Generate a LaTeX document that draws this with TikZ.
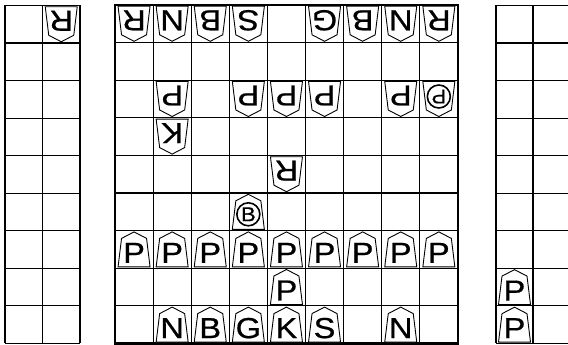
\documentclass[tikz,border=0pt]{standalone}
\usepackage{fontspec}
\setmainfont{Liberation Sans}
\newfontfamily\pfont[FakeBold=0.6]{Liberation Sans}
\newcommand\pc[4]{% name, coordinate, rotation, letter
  \begin{scope}[shift={(#2)}, rotate=#3]
    \draw[piece] (-16,17.5) -- (-12.5,-11) -- (0,-17.5) -- (12.5,-11) -- (16,17.5) -- cycle;
    \node[lett, transform shape, xscale=1.12] (#1) at (0,3.5) {#4};
  \end{scope}}
\newcommand\ppc[4]{% promoted piece
  \begin{scope}[shift={(#2)}, rotate=#3]
    \draw[piece] (-16,17.5) -- (-12.5,-11) -- (0,-17.5) -- (12.5,-11) -- (16,17.5) -- cycle;
    \draw[pring] (0,2.5) circle [radius=11.5pt];
    \node[plett, transform shape, xscale=1.1] (#1) at (0,2.5) {#4};
  \end{scope}}
\begin{document}
\begin{tikzpicture}[x=1pt,y=-1pt,
  grid/.style={line width=1.1pt},
  frame/.style={line width=2.4pt},
  piece/.style={line width=0.9pt, line join=miter, fill=white},
  lett/.style={font=\pfont\fontsize{29}{29}\selectfont, inner sep=0pt},
  pring/.style={line width=1.6pt},
  plett/.style={font=\pfont\fontsize{20}{20}\selectfont, inner sep=0pt}]
\useasboundingbox (0,0) rectangle (568,345);
\clip (0,0) rectangle (568,345);
% main board
\foreach \i in {0,...,9} {
  \draw[grid] ({115+38.1*\i},5) -- ({115+38.1*\i},343.4);
  \draw[grid] (115,{5+37.6*\i}) -- (458,{5+37.6*\i});
}
\draw[frame] (115,5) rectangle (458,343.4);
% left panel
\foreach \i in {0,1,2} {\draw[grid] ({5+37.5*\i},5.5) -- ({5+37.5*\i},343.4);}
\foreach \j in {0,...,9} {\draw[grid] (5,{5.5+37.55*\j}) -- (80,{5.5+37.55*\j});}
% right panel
\foreach \i in {0,1,2} {\draw[grid] ({496+37*\i},5.5) -- ({496+37*\i},343.4);}
\foreach \j in {0,...,9} {\draw[grid] (496,{5.5+37.55*\j}) -- (570,{5.5+37.55*\j});}
% cell centres
\foreach \c in {0,...,8} {\foreach \r in {0,...,8} {
  \coordinate (m-\c-\r) at ({115+38.1*(\c+0.5)},{5+37.6*(\r+0.5)});}}
\foreach \c in {0,1} {\foreach \r in {0,...,8} {
  \coordinate (l-\c-\r) at ({5+37.5*(\c+0.5)},{5.5+37.55*(\r+0.5)});
  \coordinate (r-\c-\r) at ({496+37*(\c+0.5)},{5.5+37.55*(\r+0.5)});
}}
% gote pieces
\pc{gR1}{m-0-0}{180}{R}
\pc{gN1}{m-1-0}{180}{N}
\pc{gB1}{m-2-0}{180}{B}
\pc{gS1}{m-3-0}{180}{S}
\pc{gG1}{m-5-0}{180}{G}
\pc{gB2}{m-6-0}{180}{B}
\pc{gN2}{m-7-0}{180}{N}
\pc{gR2}{m-8-0}{180}{R}
\pc{gP1}{m-1-2}{180}{P}
\pc{gP2}{m-3-2}{180}{P}
\pc{gP3}{m-4-2}{180}{P}
\pc{gP4}{m-5-2}{180}{P}
\pc{gP5}{m-7-2}{180}{P}
\ppc{gT1}{m-8-2}{180}{P}
\pc{gK}{m-1-3}{180}{K}
\pc{gR3}{m-4-4}{180}{R}
\pc{gR4}{l-1-0}{180}{R}
% sente pieces
\ppc{sH}{m-3-5}{0}{B}
\foreach \c in {0,...,8} {\pc{sP\c}{m-\c-6}{0}{P}}
\pc{sP9}{m-4-7}{0}{P}
\pc{sN1}{m-1-8}{0}{N}
\pc{sB}{m-2-8}{0}{B}
\pc{sG}{m-3-8}{0}{G}
\pc{sK}{m-4-8}{0}{K}
\pc{sS}{m-5-8}{0}{S}
\pc{sN2}{m-7-8}{0}{N}
\pc{hP1}{r-0-7}{0}{P}
\pc{hP2}{r-0-8}{0}{P}
\end{tikzpicture}
\end{document}
